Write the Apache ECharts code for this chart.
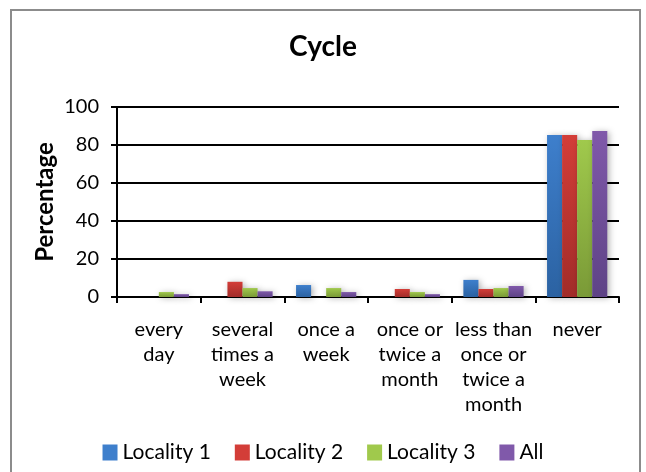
<!DOCTYPE html>
<html>
<head>
<meta charset="utf-8">
<script src="https://cdn.jsdelivr.net/npm/echarts@6/dist/echarts.min.js"></script>
<style>
  html, body { margin: 0; padding: 0; background: #fff; }
  #chart { width: 646px; height: 472px; }
</style>
</head>
<body>
<div id="chart"></div>
<script>
  // data
  const categories = ['every\nday', 'several\ntimes a\nweek', 'once a\nweek', 'once or\ntwice a\nmonth', 'less than\nonce or\ntwice a\nmonth', 'never']
  const seriesNames = ['Locality 1', 'Locality 2', 'Locality 3', 'All']
  const locality1 = [0, 0, 6.3, 0, 9, 85.3]
  const locality2 = [0, 8, 0, 4.2, 4.2, 85.3]
  const locality3 = [2.6, 4.7, 4.7, 2.6, 4.7, 82.6]
  const allData = [1.5, 3, 2.6, 1.5, 5.8, 87.4]
  const yTicks = [0, 20, 40, 60, 80, 100]

  const colors = [
    ['#3e7fcc', '#2b62a2'],
    ['#d33d38', '#a22c29'],
    ['#a0c94c', '#7a9a37'],
    ['#8059aa', '#5e4386']
  ]
  const font = 'Lato, "Open Sans", sans-serif'

  const makeSeries = (name, data, i) => ({
    name: name,
    type: 'bar',
    barGap: '0%',
    barCategoryGap: '28%',
    data: data,
    itemStyle: {
      color: new echarts.graphic.LinearGradient(0, 0, 0, 1, [
        { offset: 0, color: colors[i][0] },
        { offset: 1, color: colors[i][1] }
      ]),
      shadowColor: 'rgba(0, 0, 0, 0.3)',
      shadowBlur: 6,
      shadowOffsetX: 2,
      shadowOffsetY: 1
    }
  })

  const chart = echarts.init(document.getElementById('chart'))
  chart.setOption({
    backgroundColor: '#ffffff',
    animation: false,
    graphic: [{
      type: 'rect',
      shape: { x: 11, y: 10, width: 629, height: 480 },
      style: { fill: 'none', stroke: '#8c8c8c', lineWidth: 2 },
      silent: true
    }],
    title: {
      text: 'Cycle',
      left: 'center',
      top: 28,
      textStyle: { fontFamily: font, fontSize: 28, fontWeight: 'bold', color: '#000' }
    },
    legend: {
      data: seriesNames.map((n, i) => ({ name: n, itemStyle: { color: colors[i][0] } })),
      bottom: 4,
      left: 'center',
      icon: 'rect',
      itemWidth: 15,
      itemHeight: 16,
      itemGap: 24,
      textStyle: { fontFamily: font, fontSize: 21, color: '#000' }
    },
    grid: { left: 117, right: 27, top: 107, bottom: 175 },
    xAxis: {
      type: 'category',
      data: categories,
      axisLine: { lineStyle: { color: '#000', width: 2 } },
      axisTick: { show: true, length: 6, inside: false, lineStyle: { color: '#000', width: 2 } },
      axisLabel: {
        margin: 20,
        interval: 0,
        fontFamily: font,
        fontSize: 20,
        lineHeight: 25,
        color: '#000',
        align: 'center'
      }
    },
    yAxis: {
      type: 'value',
      min: yTicks[0],
      max: yTicks[yTicks.length - 1],
      interval: 20,
      name: 'Percentage',
      nameLocation: 'middle',
      nameGap: 60,
      nameMoveOverlap: false,
      nameTextStyle: { fontFamily: font, fontSize: 24, fontWeight: 'bold', color: '#000' },
      axisLine: { show: true, lineStyle: { color: '#000', width: 2 } },
      axisTick: { show: true, length: 6, lineStyle: { color: '#000', width: 2 } },
      axisLabel: { margin: 18, fontFamily: font, fontSize: 20, color: '#000' },
      splitLine: { lineStyle: { color: '#000', width: 2 } }
    },
    series: [
      makeSeries(seriesNames[0], locality1, 0),
      makeSeries(seriesNames[1], locality2, 1),
      makeSeries(seriesNames[2], locality3, 2),
      makeSeries(seriesNames[3], allData, 3)
    ]
  })
</script>
</body>
</html>
